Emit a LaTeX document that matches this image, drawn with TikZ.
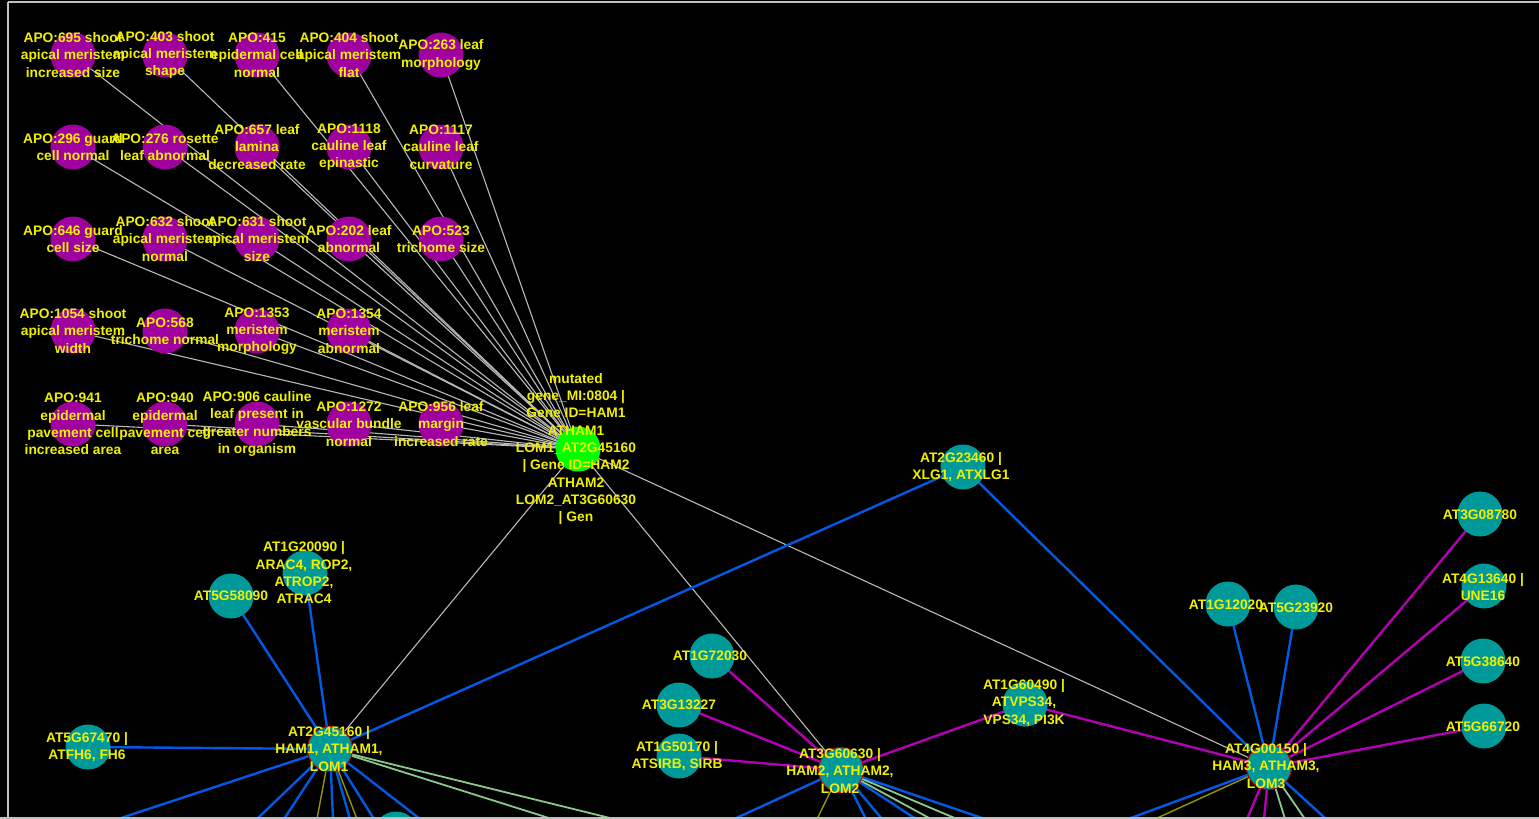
\documentclass[tikz,border=0pt]{standalone}
\usepackage{fontspec}
\setmainfont{Liberation Sans}
\pgfdeclarelayer{back}
\pgfdeclarelayer{edges}
\pgfsetlayers{back,edges,main}
\definecolor{apo}{RGB}{160,0,160}
\definecolor{gene}{RGB}{0,153,153}
\definecolor{hub}{RGB}{0,255,0}
\definecolor{lbl}{RGB}{240,240,0}
\definecolor{eblue}{RGB}{0,90,230}
\definecolor{emag}{RGB}{180,0,180}
\definecolor{egrey}{RGB}{185,185,185}
\definecolor{egreen}{RGB}{140,200,140}
\definecolor{eolive}{RGB}{150,150,0}
\definecolor{framegrey}{RGB}{192,192,192}
\tikzset{
  dot/.style={circle, minimum size=45pt, inner sep=0pt},
  apodot/.style={dot, fill=apo},
  genedot/.style={dot, fill=gene},
  hamdot/.style={dot, fill=gene, draw=red!75!black, line width=1pt},
  hubdot/.style={dot, fill=hub},
  lbl/.style={text=lbl, font=\bfseries\fontsize{13.8pt}{17.3pt}\selectfont, align=center, inner sep=0pt},
  greyedge/.style={draw=egrey, line width=1.1pt},
  blueedge/.style={draw=eblue, line width=2.4pt},
  magedge/.style={draw=emag, line width=2.4pt},
  greenedge/.style={draw=egreen, line width=1.8pt},
  oliveedge/.style={draw=eolive, line width=1.4pt},
}
\begin{document}
\begin{tikzpicture}[x=1pt,y=-1pt]
\useasboundingbox (0,0) rectangle (1539,819);
\begin{pgfonlayer}{back}
  \fill[black] (0,0) rectangle (1539,819);
\end{pgfonlayer}

% ---------- phenotype (APO) nodes ----------
\node[apodot] (apo695)  at (73,55)  {};
\node[apodot] (apo403)  at (165,55) {};
\node[apodot] (apo415)  at (257,55) {};
\node[apodot] (apo404)  at (349,55) {};
\node[apodot] (apo263)  at (441,55) {};
\node[apodot] (apo296)  at (73,147)  {};
\node[apodot] (apo276)  at (165,147) {};
\node[apodot] (apo657)  at (257,147) {};
\node[apodot] (apo1118) at (349,147) {};
\node[apodot] (apo1117) at (441,147) {};
\node[apodot] (apo646)  at (73,239)  {};
\node[apodot] (apo632)  at (165,239) {};
\node[apodot] (apo631)  at (257,239) {};
\node[apodot] (apo202)  at (349,239) {};
\node[apodot] (apo523)  at (441,239) {};
\node[apodot] (apo1054) at (73,331)  {};
\node[apodot] (apo568)  at (165,331) {};
\node[apodot] (apo1353) at (257,331) {};
\node[apodot] (apo1354) at (349,331) {};
\node[apodot] (apo941)  at (73,424)  {};
\node[apodot] (apo940)  at (165,424) {};
\node[apodot] (apo906)  at (257,424) {};
\node[apodot] (apo1272) at (349,424) {};
\node[apodot] (apo956)  at (441,424) {};

% ---------- hub ----------
\node[hubdot] (hub) at (578,449) {};

% ---------- gene nodes ----------
\node[genedot] (xlg1)    at (963,467)  {};
\node[genedot] (g58090)  at (231,596)  {};
\node[genedot] (arac4)   at (305,573)  {};
\node[genedot] (fh6)     at (88,747)   {};
\node[hamdot]  (ham1)    at (330,749)  {};
\node[genedot] (g72030)  at (712,656)  {};
\node[genedot] (g13227)  at (679,705)  {};
\node[genedot] (sirb)    at (679,756)  {};
\node[hamdot]  (ham2)    at (841,770)  {};
\node[genedot] (vps34)   at (1025,704) {};
\node[genedot] (g12020)  at (1228,604) {};
\node[genedot] (g23920)  at (1296,607) {};
\node[genedot] (g08780)  at (1480,514) {};
\node[genedot] (une16)   at (1484,586) {};
\node[genedot] (g38640)  at (1483,661) {};
\node[genedot] (g66720)  at (1484,726) {};
\node[hamdot]  (ham3)    at (1269,767) {};
\node[genedot] (glow)    at (396,834)  {};

% ---------- free ends of edges leaving the view ----------
\foreach \n/\x in {a/118,b/257,c/284,d/333,e/350,f/374,g/420} \coordinate (h1\n) at (\x,819);
\coordinate (h1o1) at (317,819); \coordinate (h1o2) at (357,819);
\coordinate (h1g1) at (552,819); \coordinate (h1g2) at (614,819);
\foreach \n/\x in {a/734,b/866,c/882,d/916,e/985} \coordinate (h2\n) at (\x,819);
\coordinate (h2o1) at (817,819);
\coordinate (h2g1) at (931,819); \coordinate (h2g2) at (957,819);
\coordinate (h3a) at (1128,819); \coordinate (h3b) at (1326,819);
\coordinate (h3o1) at (1155,819);
\coordinate (h3m1) at (1247,819); \coordinate (h3m2) at (1264,819);
\coordinate (h3g1) at (1285,819); \coordinate (h3g2) at (1305,819);

% ---------- edges ----------
\begin{pgfonlayer}{edges}
  \foreach \a in {apo695,apo403,apo415,apo404,apo263,apo296,apo276,apo657,apo1118,apo1117,
                  apo646,apo632,apo631,apo202,apo523,apo1054,apo568,apo1353,apo1354,
                  apo941,apo940,apo906,apo1272,apo956}
    \draw[greyedge] (\a.center) -- (hub.center);
  \draw[greyedge] (hub.center) -- (ham1.center);
  \draw[greyedge] (hub.center) -- (ham2.center);
  \draw[greyedge] (hub.center) -- (ham3.center);

  \draw[blueedge] (ham1.center) -- (xlg1.center);
  \draw[blueedge] (xlg1.center) -- (ham3.center);
  \draw[blueedge] (ham1.center) -- (g58090.center);
  \draw[blueedge] (ham1.center) -- (arac4.center);
  \draw[blueedge] (ham1.center) -- (fh6.center);
  \draw[blueedge] (g12020.center) -- (ham3.center);
  \draw[blueedge] (g23920.center) -- (ham3.center);

  \draw[magedge] (g72030.center) -- (ham2.center);
  \draw[magedge] (g13227.center) -- (ham2.center);
  \draw[magedge] (sirb.center) -- (ham2.center);
  \draw[magedge] (vps34.center) -- (ham2.center);
  \draw[magedge] (vps34.center) -- (ham3.center);
  \foreach \g in {g08780,une16,g38640,g66720}
    \draw[magedge] (\g.center) -- (ham3.center);

  \foreach \n in {a,b,c,d,e,f,g} \draw[blueedge] (ham1.center) -- (h1\n);
  \draw[oliveedge] (ham1.center) -- (h1o1);
  \draw[oliveedge] (ham1.center) -- (h1o2);
  \draw[greenedge] (ham1.center) -- (h1g1);
  \draw[greenedge] (ham1.center) -- (h1g2);

  \foreach \n in {a,b,c,d,e} \draw[blueedge] (ham2.center) -- (h2\n);
  \draw[oliveedge] (ham2.center) -- (h2o1);
  \draw[greenedge] (ham2.center) -- (h2g1);
  \draw[greenedge] (ham2.center) -- (h2g2);

  \draw[blueedge] (ham3.center) -- (h3a);
  \draw[blueedge] (ham3.center) -- (h3b);
  \draw[oliveedge] (ham3.center) -- (h3o1);
  \draw[magedge] (ham3.center) -- (h3m1);
  \draw[magedge] (ham3.center) -- (h3m2);
  \draw[greenedge] (ham3.center) -- (h3g1);
  \draw[greenedge] (ham3.center) -- (h3g2);
\end{pgfonlayer}

% ---------- labels ----------
\node[lbl] (apo695-t)  at (apo695)  {APO:695 shoot\\apical meristem\\increased size};
\node[lbl] (apo403-t)  at (apo403)  {APO:403 shoot\\apical meristem\\shape};
\node[lbl] (apo415-t)  at (apo415)  {APO:415\\epidermal cell\\normal};
\node[lbl] (apo404-t)  at (apo404)  {APO:404 shoot\\apical meristem\\flat};
\node[lbl] (apo263-t)  at (apo263)  {APO:263 leaf\\morphology};
\node[lbl] (apo296-t)  at (apo296)  {APO:296 guard\\cell normal};
\node[lbl] (apo276-t)  at (apo276)  {APO:276 rosette\\leaf abnormal};
\node[lbl] (apo657-t)  at (apo657)  {APO:657 leaf\\lamina\\decreased rate};
\node[lbl] (apo1118-t) at (apo1118) {APO:1118\\cauline leaf\\epinastic};
\node[lbl] (apo1117-t) at (apo1117) {APO:1117\\cauline leaf\\curvature};
\node[lbl] (apo646-t)  at (apo646)  {APO:646 guard\\cell size};
\node[lbl] (apo632-t)  at (apo632)  {APO:632 shoot\\apical meristem\\normal};
\node[lbl] (apo631-t)  at (apo631)  {APO:631 shoot\\apical meristem\\size};
\node[lbl] (apo202-t)  at (apo202)  {APO:202 leaf\\abnormal};
\node[lbl] (apo523-t)  at (apo523)  {APO:523\\trichome size};
\node[lbl] (apo1054-t) at (apo1054) {APO:1054 shoot\\apical meristem\\width};
\node[lbl] (apo568-t)  at (apo568)  {APO:568\\trichome normal};
\node[lbl] (apo1353-t) at (apo1353) {APO:1353\\meristem\\morphology};
\node[lbl] (apo1354-t) at (apo1354) {APO:1354\\meristem\\abnormal};
\node[lbl] (apo941-t)  at (apo941)  {APO:941\\epidermal\\pavement cell\\increased area};
\node[lbl] (apo940-t)  at (apo940)  {APO:940\\epidermal\\pavement cell\\area};
\node[lbl] (apo906-t)  at (apo906)  {APO:906 cauline\\leaf present in\\greater numbers\\in organism};
\node[lbl] (apo1272-t) at (apo1272) {APO:1272\\vascular bundle\\normal};
\node[lbl] (apo956-t)  at (apo956)  {APO:956 leaf\\margin\\increased rate};

\node[lbl] (hub-t) at (576,449) {mutated\\gene\_MI:0804 |\\Gene ID=HAM1\\ATHAM1\\LOM1\_AT2G45160\\| Gene ID=HAM2\\ATHAM2\\LOM2\_AT3G60630\\| Gen};

\node[lbl] (xlg1-t)   at (961,467)  {AT2G23460 |\\XLG1, ATXLG1};
\node[lbl] (g58090-t) at (231,596)  {AT5G58090};
\node[lbl] (arac4-t)  at (304,573)  {AT1G20090 |\\ARAC4, ROP2,\\ATROP2,\\ATRAC4};
\node[lbl] (fh6-t)    at (87,747)   {AT5G67470 |\\ATFH6, FH6};
\node[lbl] (ham1-t)   at (329,749)  {AT2G45160 |\\HAM1, ATHAM1,\\LOM1};
\node[lbl] (g72030-t) at (710,656)  {AT1G72030};
\node[lbl] (g13227-t) at (679,705)  {AT3G13227};
\node[lbl] (sirb-t)   at (677,756)  {AT1G50170 |\\ATSIRB, SIRB};
\node[lbl] (ham2-t)   at (840,771)  {AT3G60630 |\\HAM2, ATHAM2,\\LOM2};
\node[lbl] (vps34-t)  at (1024,703) {AT1G60490 |\\ATVPS34,\\VPS34, PI3K};
\node[lbl] (g12020-t) at (1226,605) {AT1G12020};
\node[lbl] (g23920-t) at (1296,608) {AT5G23920};
\node[lbl] (g08780-t) at (1480,515) {AT3G08780};
\node[lbl] (une16-t)  at (1483,587) {AT4G13640 |\\UNE16};
\node[lbl] (g38640-t) at (1483,662) {AT5G38640};
\node[lbl] (g66720-t) at (1483,727) {AT5G66720};
\node[lbl] (ham3-t)   at (1266,766) {AT4G00150 |\\HAM3, ATHAM3,\\LOM3};

% ---------- frame ----------
\draw[framegrey, line width=2.5pt] (8,2) -- (1539,2);
\draw[framegrey, line width=2pt] (8,2) -- (8,818);
\draw[framegrey, line width=3pt] (0,818) -- (1539,818);
\end{tikzpicture}
\end{document}
